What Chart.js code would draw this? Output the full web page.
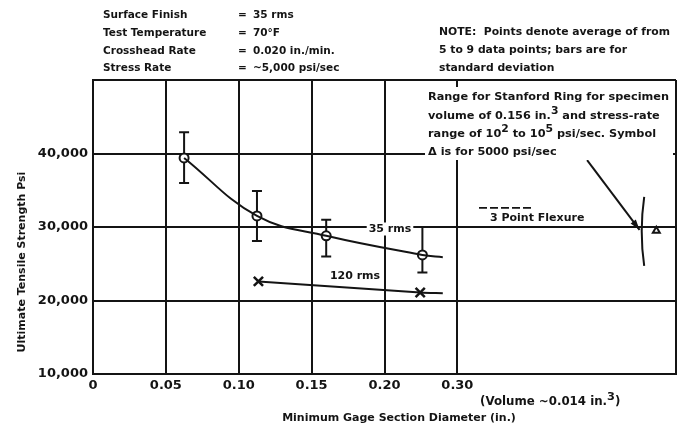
<!DOCTYPE html>
<html><head><meta charset="utf-8">
<script src="https://cdn.jsdelivr.net/npm/chart.js@4/dist/chart.umd.min.js"></script>
<style>html,body{margin:0;padding:0;background:#fff}#wrap{width:679px;height:428px}</style>
</head><body><div id="wrap"><canvas id="c" width="679" height="428"></canvas></div>
<script>
// ---- axis ticks ----
const xTickValues = [0, 0.05, 0.10, 0.15, 0.20, 0.30];
const xTickLabels = ['0', '0.05', '0.10', '0.15', '0.20', '0.30'];
const yTickValues = [10000, 20000, 30000, 40000, 50000];
const yTickLabels = ['10,000', '20,000', '30,000', '40,000', ''];

// ---- 35 rms series (diameter in., UTS psi) ----
const d35 = [0.0625, 0.1125, 0.16, 0.252];
const s35 = [39400, 31500, 28800, 26200];
const s35Hi = [42900, 34900, 31000, 30000];
const s35Lo = [36000, 28100, 26000, 23800];
const d35Curve = [0.0625, 0.1125, 0.16, 0.252, 0.28];
const s35Curve = [39400, 31500, 28800, 26200, 25900];

// ---- 120 rms series ----
const d120 = [0.1135, 0.249];
const s120 = [22600, 21100];
const d120Line = [0.1135, 0.249, 0.28];
const s120Line = [22600, 21100, 21000];

// ---- Stanford ring (positions in axis units beyond the diameter scale) ----
const ringPos = 7.55;
const ringRange = [24700, 34100];
const ringTriPos = [7.73];
const ringTri = [29500];
const arrowPos = [6.78, 7.50];
const arrowVal = [39100, 29600];
const flexureDashVal = 32600;

function toPos(d) {
  const v = xTickValues;
  let i = 0;
  while (i < v.length - 2 && d > v[i + 1]) i++;
  return i + (d - v[i]) / (v[i + 1] - v[i]);
}

const INK = '#141414';
const FAM = '"DejaVu Sans", Verdana, sans-serif';
const tickFont = { family: FAM, weight: 'bold', size: 13 };

function setFont(ctx, size) { ctx.font = `bold ${size}px ${FAM}`; }
function rich(ctx, x, y, parts, size) {
  let cx = x;
  for (const [t, sup] of parts) {
    setFont(ctx, sup ? size - 0.5 : size);
    ctx.fillText(t, cx, sup ? y - 5 : y);
    cx += ctx.measureText(t).width;
  }
  return cx - x;
}
function labelBox(ctx, text, cx, cy, size) {
  setFont(ctx, size);
  const w = ctx.measureText(text).width;
  ctx.fillStyle = '#fff';
  ctx.fillRect(cx - w / 2 - 2, cy - size / 2 - 1, w + 4, size + 2);
  ctx.fillStyle = INK;
  ctx.textAlign = 'center';
  ctx.fillText(text, cx, cy);
  ctx.textAlign = 'left';
}

const fixArea = {
  id: 'fixArea',
  afterLayout(chart) {
    const ca = chart.chartArea;
    ca.right = 676; ca.width = ca.right - ca.left;
    const x = chart.scales.x;
    x.right = 676; x.width = x.right - x.left;
    x.configure();
  }
};

const deco = {
  id: 'deco',
  beforeDatasetsDraw(chart) {
    const { ctx, scales: { x, y } } = chart;
    ctx.save();
    ctx.strokeStyle = INK; ctx.lineWidth = 2;
    d35.forEach((d, i) => {
      const px = x.getPixelForValue(toPos(d));
      const hi = y.getPixelForValue(s35Hi[i]), lo = y.getPixelForValue(s35Lo[i]);
      ctx.beginPath();
      ctx.moveTo(px, hi); ctx.lineTo(px, lo);
      ctx.moveTo(px - 5, hi); ctx.lineTo(px + 5, hi);
      ctx.moveTo(px - 5, lo); ctx.lineTo(px + 5, lo);
      ctx.stroke();
    });
    // ring range bracket
    const rx = x.getPixelForValue(ringPos);
    const rHi = y.getPixelForValue(ringRange[1]), rLo = y.getPixelForValue(ringRange[0]);
    ctx.beginPath();
    ctx.moveTo(rx + 1, rHi);
    ctx.quadraticCurveTo(rx - 4, (rHi + rLo) / 2, rx + 1, rLo);
    ctx.stroke();
    // arrow
    const ax0 = x.getPixelForValue(arrowPos[0]), ay0 = y.getPixelForValue(arrowVal[0]);
    const ax1 = x.getPixelForValue(arrowPos[1]), ay1 = y.getPixelForValue(arrowVal[1]);
    ctx.beginPath(); ctx.moveTo(ax0, ay0); ctx.lineTo(ax1, ay1); ctx.stroke();
    const ang = Math.atan2(ay1 - ay0, ax1 - ax0);
    ctx.fillStyle = INK;
    ctx.beginPath();
    ctx.moveTo(ax1, ay1);
    ctx.lineTo(ax1 - 11 * Math.cos(ang - 0.3), ay1 - 11 * Math.sin(ang - 0.3));
    ctx.lineTo(ax1 - 11 * Math.cos(ang + 0.3), ay1 - 11 * Math.sin(ang + 0.3));
    ctx.closePath(); ctx.fill();
    ctx.restore();
  },
  afterDraw(chart) {
    const { ctx, scales: { x, y } } = chart;
    ctx.save();
    ctx.fillStyle = INK;
    ctx.textBaseline = 'middle';
    setFont(ctx, 10.5);
    // header
    const hdr = [['Surface Finish', '35 rms'], ['Test Temperature', '70\u00b0F'],
                 ['Crosshead Rate', '0.020 in./min.'], ['Stress Rate', '~5,000 psi/sec']];
    const hy = [15, 33, 51, 68];
    hdr.forEach((r, i) => {
      ctx.fillText(r[0], 103, hy[i]);
      ctx.fillText('=', 238, hy[i]);
      ctx.fillText(r[1], 253, hy[i]);
    });
    setFont(ctx, 10.8);
    const note = ['NOTE:  Points denote average of from', '5 to 9 data points; bars are for', 'standard deviation'];
    [32, 50, 68].forEach((yy, i) => ctx.fillText(note[i], 439, yy));

    // Stanford ring note
    ctx.fillStyle = '#fff'; ctx.fillRect(425, 87, 248, 73);
    ctx.fillStyle = INK;
    const sl = [
      [['Range for Stanford Ring for specimen']],
      [['volume of 0.156 in.'], ['3', 1], [' and stress-rate']],
      [['range of 10'], ['2', 1], [' to 10'], ['5', 1], [' psi/sec. Symbol']],
      [['\u0394 is for 5000 psi/sec']]
    ];
    const sy = [97, 116, 134, 152];
    sl.forEach((parts, i) => rich(ctx, 428, sy[i], parts, 11.3));

    // series labels
    labelBox(ctx, '35 rms', 390, 229, 11);
    labelBox(ctx, '120 rms', 355, 276, 11);
    // 3 point flexure
    const fy = y.getPixelForValue(flexureDashVal);
    setFont(ctx, 11);
    ctx.fillText('3 Point Flexure', 490, 218);
    ctx.strokeStyle = INK; ctx.lineWidth = 1.6; ctx.setLineDash([8, 3]);
    ctx.beginPath(); ctx.moveTo(479, fy); ctx.lineTo(533, fy); ctx.stroke();
    ctx.setLineDash([]);

    // axis titles
    ctx.textAlign = 'center';
    ctx.fillText('Minimum Gage Section Diameter (in.)', 399, 418);
    ctx.textAlign = 'left';
    rich(ctx, 480, 402, [['(Volume ~0.014 in.'], ['3', 1], [')']], 11.8);
    ctx.save();
    ctx.translate(22, 262); ctx.rotate(-Math.PI / 2);
    ctx.textAlign = 'center';
    setFont(ctx, 11);
    ctx.fillText('Ultimate Tensile Strength Psi', 0, 0);
    ctx.restore();
    ctx.restore();
  }
};

new Chart(document.getElementById('c'), {
  type: 'scatter',
  data: {
    datasets: [
      { data: d35Curve.map((d, i) => ({ x: toPos(d), y: s35Curve[i] })), showLine: true,
        borderColor: INK, borderWidth: 2, pointRadius: 0, tension: 0.4 },
      { data: d35.map((d, i) => ({ x: toPos(d), y: s35[i] })), showLine: false,
        pointStyle: 'circle', pointRadius: 4.5, backgroundColor: '#fff', borderColor: INK, borderWidth: 2 },
      { data: d120Line.map((d, i) => ({ x: toPos(d), y: s120Line[i] })), showLine: true,
        borderColor: INK, borderWidth: 2, pointRadius: 0, tension: 0.3 },
      { data: d120.map((d, i) => ({ x: toPos(d), y: s120[i] })), showLine: false,
        pointStyle: 'crossRot', pointRadius: 6.5, borderColor: INK, borderWidth: 2.5 },
      { data: ringTriPos.map((p, i) => ({ x: p, y: ringTri[i] })), showLine: false,
        pointStyle: 'triangle', pointRadius: 4, backgroundColor: '#fff', borderColor: INK, borderWidth: 2 }
    ]
  },
  options: {
    responsive: false, animation: false, events: [],
    layout: { padding: { top: 80, right: 3, left: 0, bottom: 0 } },
    plugins: { legend: { display: false }, tooltip: { enabled: false } },
    scales: {
      x: {
        type: 'linear', min: 0, max: 8,
        afterFit(s) { s.height = 54; s.paddingRight = 0; s.paddingLeft = 0; },
        afterBuildTicks(s) { s.ticks = [0, 1, 2, 3, 4, 5, 8].map(v => ({ value: v })); },
        ticks: { callback: v => (v <= 5 ? xTickLabels[v] : ''), font: tickFont, color: INK, padding: 4, maxRotation: 0, autoSkip: false },
        grid: { color: INK, lineWidth: 2, drawTicks: false },
        border: { color: INK, width: 2 }
      },
      y: {
        type: 'linear', min: 10000, max: 50000,
        afterFit(s) { s.width = 93; s.paddingTop = 0; s.paddingBottom = 0; },
        afterBuildTicks(s) { s.ticks = yTickValues.map(v => ({ value: v })); },
        ticks: { callback: v => yTickLabels[yTickValues.indexOf(v)], font: tickFont, color: INK, padding: 5 },
        grid: { color: INK, lineWidth: 2, drawTicks: false },
        border: { color: INK, width: 2 }
      }
    }
  },
  plugins: [fixArea, deco]
});
</script></body></html>
